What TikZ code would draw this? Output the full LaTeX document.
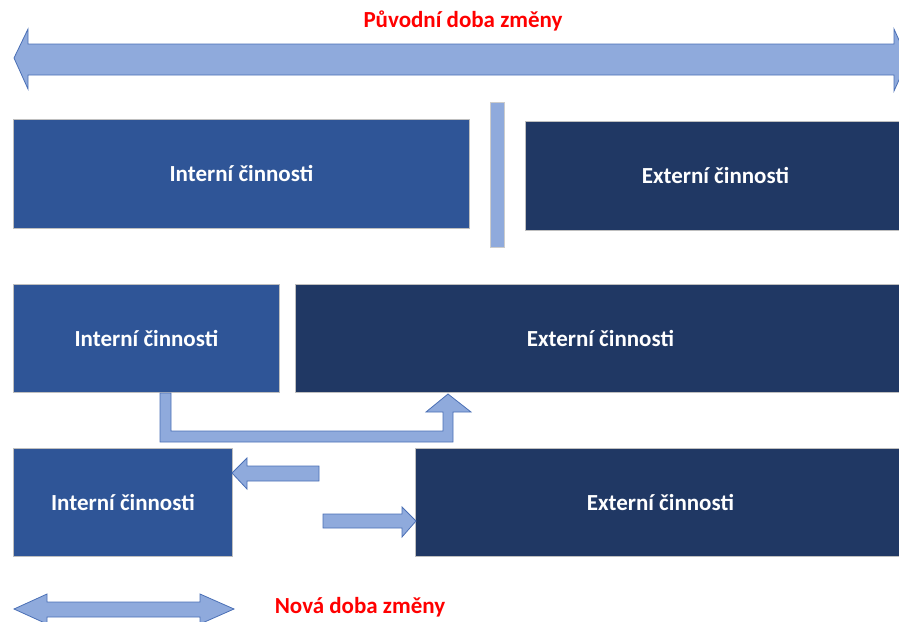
\documentclass[tikz,border=0pt]{standalone}
\usepackage{fontspec}
\setmainfont{Carlito}
\definecolor{midblue}{HTML}{2F5597}
\definecolor{darkblue}{HTML}{203864}
\definecolor{lightblue}{HTML}{8FAADC}
\definecolor{arrowedge}{HTML}{4A6FB5}
\definecolor{redtxt}{HTML}{FF0000}
\tikzset{
  boxstyle/.style={draw=black!25, line width=0.8pt, text=white, font=\fontsize{23}{27}\selectfont\bfseries},
  intbox/.style={boxstyle, fill=midblue},
  extbox/.style={boxstyle, fill=darkblue},
  blockarrow/.style={fill=lightblue, draw=arrowedge, line width=0.8pt, line join=miter},
  redlabel/.style={text=redtxt, font=\fontsize{23}{27}\selectfont\bfseries}
}
\begin{document}
\begin{tikzpicture}[x=1pt,y=-1pt]
\useasboundingbox (0,0) rectangle (899,621);
% title
\node[redlabel] (title) at (463,21) {Původní doba změny};
% top double arrow
\begin{scope}
\clip (0,0) rectangle (899,621);
\draw[blockarrow] (14,58) -- (28,29) -- (28,44) -- (894,44) -- (894,29) -- (908,60) -- (894,91) -- (894,75) -- (28,75) -- (28,89) -- cycle;
\end{scope}
% row 1
\node[intbox, minimum width=456pt, minimum height=109pt, anchor=north west] (int1) at (13,119) {Interní činnosti};
\draw[fill=lightblue, draw=black!20, line width=0.8pt] (490,102) rectangle (504,247);
\node[extbox, minimum width=380pt, minimum height=109pt, anchor=north west] (ext1) at (525,121) {Externí činnosti};
% row 2
\node[intbox, minimum width=266pt, minimum height=108pt, anchor=north west] (int2) at (13,284) {Interní činnosti};
\node[extbox, minimum width=610pt, minimum height=108pt, anchor=north west] (ext2) at (295,284) {Externí činnosti};
% bent arrow
\draw[blockarrow] (160,393) -- (171,393) -- (171,431) -- (443,431) -- (443,412) -- (426,412) -- (448,394) -- (471,412) -- (453,412) -- (453,442) -- (160,442) -- cycle;
% row 3
\node[intbox, minimum width=219pt, minimum height=108pt, anchor=north west] (int3) at (13,448) {Interní činnosti};
\node[extbox, minimum width=490pt, minimum height=108pt, anchor=north west] (ext3) at (415,448) {Externí činnosti};
% small arrows
\draw[blockarrow] (232,473) -- (247,458) -- (247,466) -- (319,466) -- (319,481) -- (247,481) -- (247,489) -- cycle;
\draw[blockarrow] (323,514) -- (402,514) -- (402,507) -- (416,521) -- (402,537) -- (402,528) -- (323,528) -- cycle;
% bottom double arrow
\begin{scope}
\clip (0,0) rectangle (899,621);
\draw[blockarrow] (14,609) -- (47,594) -- (47,602) -- (200,602) -- (200,594) -- (234,609) -- (200,624) -- (200,617) -- (47,617) -- (47,624) -- cycle;
\end{scope}
\node[redlabel] (newlabel) at (360,607) {Nová doba změny};
\end{tikzpicture}
\end{document}
